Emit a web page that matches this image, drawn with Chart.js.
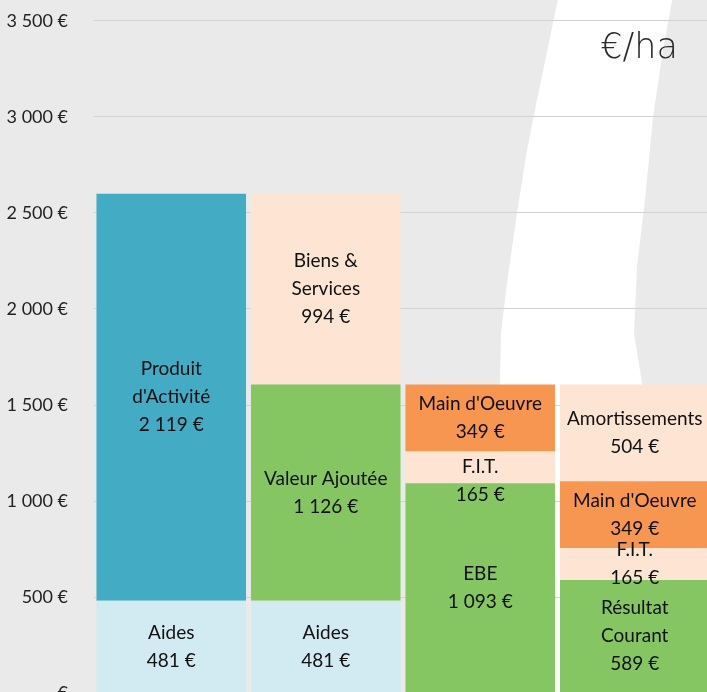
<!DOCTYPE html>
<html>
<head>
<meta charset="utf-8">
<script src="https://cdn.jsdelivr.net/npm/chart.js@4/dist/chart.umd.min.js"></script>
<style>
html,body{margin:0;padding:0;overflow:hidden;background:#eaeaea;width:707px;height:692px;}
canvas{position:absolute;left:0;top:-16px;}
</style>
</head>
<body>
<canvas id="c" width="720" height="746"></canvas>
<script>
// ---- data ----
const categories = ["Produit", "Valeur Ajoutée", "EBE", "Résultat"];
const seriesNames = [
  ["Aides"],
  ["Produit", "d'Activité"],
  ["Valeur Ajoutée"],
  ["EBE"],
  ["Résultat", "Courant"],
  ["F.I.T."],
  ["Main d'Oeuvre"],
  ["Biens &", "Services"],
  ["Amortissements"]
];
const aides            = [481, 481, null, null];
const produitActivite  = [2119, null, null, null];
const valeurAjoutee    = [null, 1126, null, null];
const ebe              = [null, null, 1093, null];
const resultatCourant  = [null, null, null, 589];
const fit              = [null, null, 165, 165];
const mainOeuvre       = [null, null, 349, 349];
const biensServices    = [null, 994, null, null];
const amortissements   = [null, null, null, 504];
const yTicks = [0, 500, 1000, 1500, 2000, 2500, 3000, 3500];

// ---- styles ----
const colors = ["#d2eaf1", "#43abc4", "#86c662", "#86c662", "#86c662", "#fde4d3", "#f79650", "#fde4d3", "#fde4d3"];
const seriesValues = [aides, produitActivite, valeurAjoutee, ebe, resultatCourant, fit, mainOeuvre, biensServices, amortissements];
// manual label nudges (dataset index -> bar index -> dy px)
const labelNudge = {5: {2: 14}};
const OFF = 16; // canvas is shifted up by this many px

function fmt(v) {
  const s = Math.round(v).toString().replace(/\B(?=(\d{3})+(?!\d))/g, " ");
  return v === 0 ? "€" : s + " €";
}

const datasets = seriesValues.map((vals, i) => ({
  label: seriesNames[i].join(" "),
  data: vals,
  backgroundColor: colors[i],
  borderWidth: 0,
  categoryPercentage: 1,
  barPercentage: 0.968
}));

const bgPlugin = {
  id: "bg",
  beforeDraw(chart) {
    const ctx = chart.ctx;
    ctx.save();
    ctx.fillStyle = "#eaeaea";
    ctx.fillRect(0, 0, chart.width, chart.height);
    ctx.translate(0, OFF);
    // decorative white swoosh
    ctx.fillStyle = "#ffffff";
    ctx.beginPath();
    ctx.moveTo(562, -20);
    ctx.lineTo(553, 23);
    ctx.lineTo(537, 100);
    ctx.lineTo(527, 150);
    ctx.lineTo(517, 213);
    ctx.lineTo(507, 283);
    ctx.lineTo(501, 333);
    ctx.lineTo(500, 383);
    ctx.lineTo(503, 500);
    ctx.lineTo(510, 720);
    ctx.lineTo(690, 720);
    ctx.lineTo(655, 500);
    ctx.lineTo(642, 383);
    ctx.lineTo(634, 333);
    ctx.lineTo(637, 267);
    ctx.lineTo(645, 200);
    ctx.lineTo(653, 117);
    ctx.lineTo(663, 50);
    ctx.lineTo(676, -20);
    ctx.closePath();
    ctx.fill();
    ctx.restore();
  }
};

const labelPlugin = {
  id: "segLabels",
  afterDatasetsDraw(chart) {
    const ctx = chart.ctx;
    ctx.save();
    ctx.font = "19px Lato";
    ctx.fillStyle = "#111111";
    ctx.textAlign = "center";
    ctx.textBaseline = "middle";
    const lh = 28;
    chart.data.datasets.forEach((ds, di) => {
      const meta = chart.getDatasetMeta(di);
      meta.data.forEach((el, bi) => {
        const v = ds.data[bi];
        if (v === null || v === undefined) return;
        const lines = seriesNames[di].concat([fmt(v)]);
        const cy = (el.y + el.base) / 2 + ((labelNudge[di] && labelNudge[di][bi]) || 0);
        const start = cy - (lines.length - 1) * lh / 2;
        lines.forEach((t, k) => ctx.fillText(t, el.x, start + k * lh));
      });
    });
    ctx.restore();
  },
  afterDraw(chart) {
    const ctx = chart.ctx;
    ctx.save();
    ctx.font = "200 35px 'DejaVu Sans'";
    ctx.fillStyle = "#2a2a2a";
    ctx.textAlign = "center";
    ctx.textBaseline = "alphabetic";
    ctx.fillText("€/ha", 639, 58 + OFF);
    ctx.restore();
  }
};

new Chart(document.getElementById("c"), {
  type: "bar",
  data: { labels: categories, datasets },
  options: {
    responsive: false,
    animation: false,
    layout: { padding: { top: 0, bottom: 0, left: 0, right: 8 } },
    plugins: { legend: { display: false }, tooltip: { enabled: false } },
    scales: {
      x: {
        stacked: true,
        display: false
      },
      y: {
        stacked: true,
        min: 0,
        max: 3500,
        afterFit(scale) { scale.width = 94; },
        afterBuildTicks(scale) { scale.ticks = yTicks.map(v => ({ value: v })); },
        border: { display: false },
        grid: { color: "#d2d2d2", lineWidth: 1, drawTicks: false },
        ticks: {
          padding: 26,
          color: "#222222",
          font: { family: "Lato", size: 18 },
          callback: v => fmt(v)
        }
      }
    }
  },
  plugins: [bgPlugin, labelPlugin]
});
</script>
</body>
</html>
